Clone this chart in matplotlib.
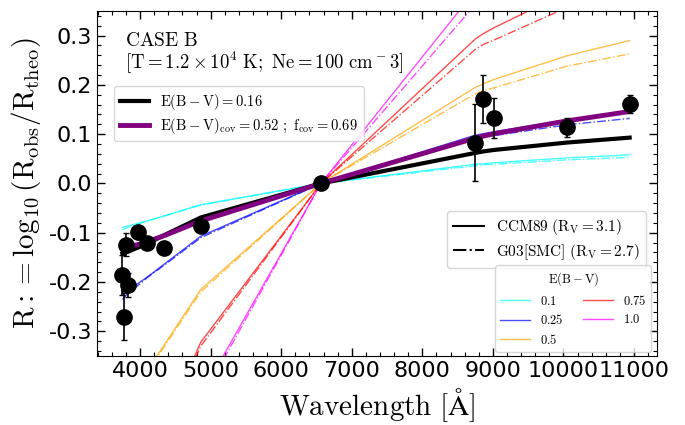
import matplotlib
matplotlib.use("Agg")
import matplotlib.pyplot as plt
from matplotlib.ticker import AutoMinorLocator, MultipleLocator
from matplotlib.lines import Line2D

plt.rcParams["mathtext.fontset"] = "cm"
plt.rcParams["axes.unicode_minus"] = False

# ── Data ─────────────────────────────────────────────────────────
wave = [3750, 3771, 3798, 3835, 3970, 4102, 4340, 4861, 6563,
        8750, 8863, 9015, 10049, 10938]

obs_R = [-0.186, -0.270, -0.124, -0.206, -0.099, -0.121, -0.131, -0.087, 0.0,
         0.083, 0.172, 0.133, 0.114, 0.161]
obs_err = [0.040, 0.047, 0.024, 0.025, 0.005, 0.005, 0.005, 0.005, 0.0,
           0.078, 0.049, 0.041, 0.019, 0.018]

ebv_labels = ["0.1", "0.25", "0.5", "0.75", "1.0"]
ebv_colors = ["cyan", "blue", "orange", "red", "magenta"]

# CCM89 (R_V = 3.1) curves, one per E(B-V)
ccm_01  = [-0.089, -0.088, -0.087, -0.086, -0.081, -0.076, -0.066, -0.043, 0,
           0.039, 0.040, 0.042, 0.052, 0.058]
ccm_025 = [-0.222, -0.220, -0.218, -0.215, -0.203, -0.190, -0.164, -0.107, 0,
           0.098, 0.101, 0.105, 0.129, 0.145]
ccm_05  = [-0.444, -0.441, -0.437, -0.431, -0.407, -0.380, -0.328, -0.215, 0,
           0.195, 0.202, 0.211, 0.259, 0.290]
ccm_075 = [-0.666, -0.661, -0.655, -0.646, -0.610, -0.571, -0.492, -0.322, 0,
           0.293, 0.304, 0.316, 0.388, 0.435]
ccm_10  = [-0.888, -0.881, -0.873, -0.861, -0.814, -0.761, -0.656, -0.430, 0,
           0.391, 0.405, 0.422, 0.517, 0.580]

# G03 SMC (R_V = 2.7) curves
g03_01  = [-0.094, -0.093, -0.091, -0.089, -0.083, -0.076, -0.066, -0.044, 0,
           0.036, 0.038, 0.039, 0.048, 0.053]
g03_025 = [-0.235, -0.232, -0.228, -0.223, -0.207, -0.191, -0.166, -0.110, 0,
           0.091, 0.094, 0.097, 0.119, 0.132]
g03_05  = [-0.470, -0.464, -0.457, -0.447, -0.413, -0.382, -0.332, -0.220, 0,
           0.182, 0.188, 0.194, 0.238, 0.263]
g03_075 = [-0.704, -0.695, -0.685, -0.670, -0.620, -0.573, -0.498, -0.330, 0,
           0.272, 0.282, 0.291, 0.357, 0.395]
g03_10  = [-0.939, -0.927, -0.913, -0.893, -0.826, -0.764, -0.664, -0.440, 0,
           0.363, 0.376, 0.388, 0.476, 0.526]

ccm_curves = [ccm_01, ccm_025, ccm_05, ccm_075, ccm_10]
g03_curves = [g03_01, g03_025, g03_05, g03_075, g03_10]

# best fits
best_ebv = [-0.142, -0.141, -0.140, -0.138, -0.130, -0.122, -0.105, -0.069, 0,
            0.062, 0.065, 0.068, 0.083, 0.093]
best_cov = [-0.131, -0.130, -0.130, -0.128, -0.124, -0.118, -0.106, -0.076, 0,
            0.092, 0.096, 0.101, 0.127, 0.146]

# ── Plot ─────────────────────────────────────────────────────────
fig = plt.figure(figsize=(6.85, 4.25), dpi=100)
ax = fig.add_axes([0.1416, 0.1624, 0.8175, 0.8118])

for col, yc, yg in zip(ebv_colors, ccm_curves, g03_curves):
    ax.plot(wave, yc, "-", color=col, lw=1.0, alpha=0.7)
    ax.plot(wave, yg, "-.", color=col, lw=1.0, alpha=0.7)

h_best, = ax.plot(wave, best_ebv, "-", color="black", lw=3,
                  label=r"$\rm E(B-V) = 0.16$")
h_cov, = ax.plot(wave, best_cov, "-", color="purple", lw=3.5,
                 label=r"$\rm E(B-V)_{cov} = 0.52\ ;\ f_{cov} = 0.69$")

ax.errorbar(wave, obs_R, yerr=obs_err, fmt="o", color="black", ms=11,
            ecolor="black", elinewidth=1.2, capsize=2.5, zorder=5)

ax.set_xlim(3390, 11325)
ax.set_ylim(-0.35, 0.35)
ax.xaxis.set_major_locator(MultipleLocator(1000))
ax.yaxis.set_major_locator(MultipleLocator(0.1))
ax.xaxis.set_minor_locator(AutoMinorLocator(5))
ax.yaxis.set_minor_locator(AutoMinorLocator(5))
ax.tick_params(which="both", direction="in", top=True, right=True)
ax.tick_params(which="major", length=6, width=1, labelsize=16)
ax.tick_params(which="minor", length=3, width=0.8)

ax.set_xlabel(r"$\rm Wavelength\ [\AA]$", fontsize=21)
ax.set_ylabel(r"$\rm R:=\log_{10}(R_{obs}/R_{theo})$", fontsize=21)

ax.text(0.05, 0.915, r"$\rm CASE\ B$", transform=ax.transAxes, fontsize=14,
        va="center")
ax.text(0.05, 0.852, r"$\rm [T{=}1.2\times10^4\ K;\ Ne{=}100\ cm^-3]$",
        transform=ax.transAxes, fontsize=13.5, va="center")

leg1 = ax.legend(handles=[h_best, h_cov], loc="upper left",
                 bbox_to_anchor=(0.03, 0.782), fontsize=10.5,
                 labelspacing=0.25, handlelength=2.0, borderaxespad=0.0)
ax.add_artist(leg1)

style_handles = [Line2D([], [], color="black", ls="-", lw=1.5),
                 Line2D([], [], color="black", ls="-.", lw=1.5)]
leg2 = ax.legend(style_handles,
                 [r"$\rm CCM89\ (R_V = 3.1)$", r"$\rm G03[SMC]\ (R_V = 2.7)$"],
                 loc="upper right", bbox_to_anchor=(0.98, 0.42), fontsize=11,
                 labelspacing=0.3, borderaxespad=0.0)
ax.add_artist(leg2)

ebv_handles = [Line2D([], [], color=c, lw=1.0, alpha=0.7) for c in ebv_colors]
ax.legend(ebv_handles, [r"$\rm %s$" % s for s in ebv_labels], ncol=2,
          loc="lower right", bbox_to_anchor=(0.99, 0.012),
          title=r"$\rm E(B-V)$", fontsize=9, title_fontsize=9,
          labelspacing=0.45, columnspacing=1.5, handlelength=2.4,
          borderaxespad=0.0)

fig.savefig("out.png", dpi=100)
